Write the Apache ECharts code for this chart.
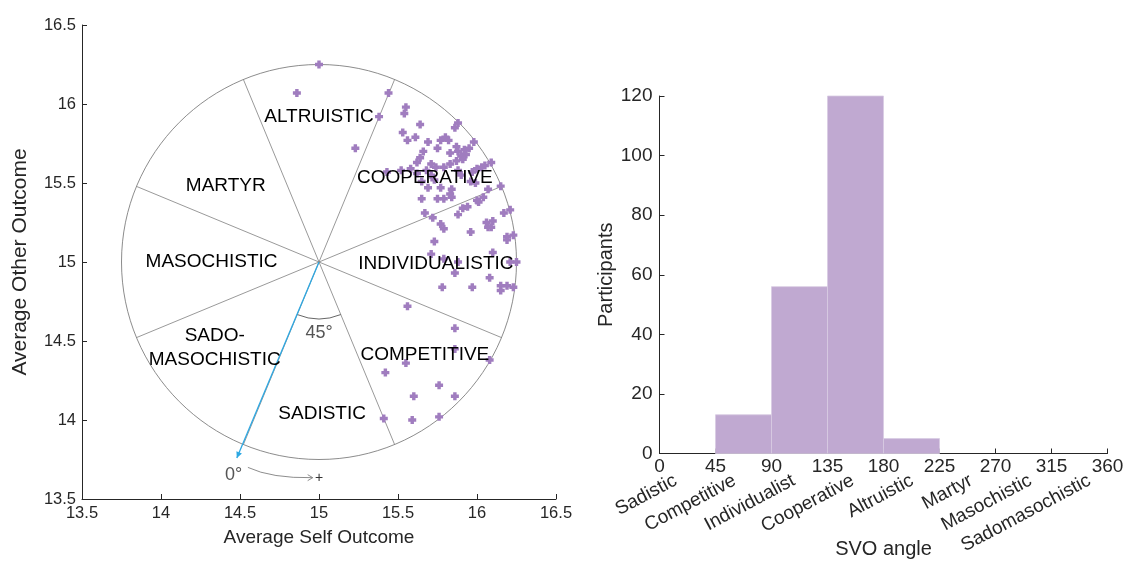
<!DOCTYPE html>
<html>
<head>
<meta charset="utf-8">
<script src="https://cdn.jsdelivr.net/npm/echarts@6/dist/echarts.min.js"></script>
<style>
html,body{margin:0;padding:0;background:#fff;}
#chart{width:1134px;height:561px;}
</style>
</head>
<body>
<div id="chart"></div>
<script>
// ---------- Left panel data (Average Self / Other Outcome) ----------
var selfOutcome = [
15.00,14.86,15.44,15.38,15.55,15.54,15.23,15.64,15.53,15.56,
15.61,15.69,15.77,15.80,15.82,15.88,15.86,15.98,15.95,15.75,
15.66,15.64,15.62,15.87,15.92,15.88,15.93,15.90,15.91,15.83,
16.09,16.05,15.71,15.74,15.79,15.83,15.87,15.52,15.58,15.43,
15.62,15.68,15.71,15.88,15.90,15.97,16.00,16.03,15.65,15.73,
15.96,15.99,16.15,15.69,15.77,15.84,15.83,16.07,16.04,15.65,
15.75,15.79,15.84,16.00,16.01,15.91,15.94,15.88,15.67,15.72,
16.17,16.21,16.06,16.10,16.07,16.09,15.77,15.79,15.96,16.19,
16.23,16.19,15.73,16.10,15.71,15.79,15.88,16.21,16.25,15.86,
16.08,15.78,15.97,16.15,16.19,16.23,16.15,15.56,15.86,15.86,
15.55,16.08,15.42,15.76,15.60,15.86,15.41,15.59,15.76];
var otherOutcome = [
16.25,16.07,16.07,15.92,15.98,15.94,15.72,15.87,15.82,15.77,
15.79,15.76,15.77,15.79,15.77,15.88,15.85,15.76,15.72,15.72,
15.70,15.66,15.63,15.73,15.71,15.70,15.68,15.67,15.65,15.69,
15.63,15.61,15.62,15.60,15.60,15.62,15.64,15.58,15.59,15.57,
15.56,15.58,15.55,15.58,15.55,15.57,15.59,15.60,15.51,15.52,
15.51,15.50,15.48,15.47,15.47,15.46,15.43,15.46,15.41,15.40,
15.40,15.40,15.41,15.39,15.38,15.34,15.35,15.30,15.31,15.28,
15.31,15.33,15.25,15.26,15.22,15.22,15.24,15.21,15.19,15.16,
15.17,15.14,15.13,15.06,15.05,15.02,15.00,15.00,15.00,14.93,
14.90,14.84,14.84,14.85,14.85,14.84,14.82,14.72,14.58,14.45,
14.36,14.38,14.30,14.22,14.15,14.15,14.01,14.00,14.02];

var circleCenter = [15, 15];
var circleRadius = 1.25;
var boundaryAngles = [22.5, 67.5, 112.5, 157.5, 202.5, 247.5, 292.5, 337.5];
var zeroLine = [[15, 15], [14.48, 13.76]];
var sectorNames = ['ALTRUISTIC','COOPERATIVE','INDIVIDUALISTIC','COMPETITIVE','SADISTIC','SADO-\nMASOCHISTIC','MASOCHISTIC','MARTYR'];
var sectorNameX = [15.00, 15.67, 15.74, 15.67, 15.02, 14.34, 14.32, 14.41];
var sectorNameY = [15.92, 15.53, 14.99, 14.41, 14.04, 14.46, 15.00, 15.48];

// ---------- Right panel data (histogram) ----------
var binEdges = [0, 45, 90, 135, 180, 225, 270, 315, 360];
var binCounts = [0, 13, 56, 120, 5, 0, 0, 0];
var svoTypes = ['Sadistic','Competitive','Individualist','Cooperative','Altruistic','Martyr','Masochistic','Sadomasochistic'];

var FONT = "'Liberation Sans', Helvetica, Arial, sans-serif";
var AX = '#262626';
var PURPLE = '#a07dbf';
var BAR = '#c0a9d1';

var scatterData = selfOutcome.map(function (x, i) { return [x, otherOutcome[i]]; });
var histData = binCounts.map(function (c, i) { return [binEdges[i], binEdges[i + 1], c]; });
var labelData = sectorNames.map(function (n, i) { return [sectorNameX[i], sectorNameY[i], n]; });

function axisCommon(extra) {
  var o = {
    axisLine: { show: true, onZero: false, lineStyle: { color: AX, width: 1 } },
    axisTick: { show: true, inside: true, length: 5, lineStyle: { color: AX } },
    splitLine: { show: false },
    nameTextStyle: { color: AX, fontFamily: FONT, fontSize: 19 }
  };
  for (var k in extra) o[k] = extra[k];
  return o;
}

var chart = echarts.init(document.getElementById('chart'), null, { renderer: 'canvas' });

var option = {
  backgroundColor: '#fff',
  animation: false,
  textStyle: { fontFamily: FONT },
  grid: [
    { left: 82, top: 25, width: 474, height: 474, containLabel: false, outerBoundsMode: 'none' },
    { left: 659.5, top: 96, width: 448, height: 357.5, containLabel: false, outerBoundsMode: 'none' },
    { left: 646, top: 96, width: 473, height: 357.5, containLabel: false, outerBoundsMode: 'none' }
  ],
  xAxis: [
    axisCommon({ type: 'value', gridIndex: 0, min: 13.5, max: 16.5, interval: 0.5,
      name: 'Average Self Outcome', nameLocation: 'middle', nameGap: 29,
      axisLabel: { color: AX, fontSize: 16.5, fontFamily: FONT, margin: 6 } }),
    axisCommon({ type: 'value', gridIndex: 1, min: 0, max: 360, interval: 45,
      name: 'SVO angle', nameLocation: 'middle', nameGap: 86,
      nameTextStyle: { color: AX, fontFamily: FONT, fontSize: 20 },
      axisLabel: { color: AX, fontSize: 19, fontFamily: FONT, margin: 4 } }),
    { type: 'category', gridIndex: 2, data: svoTypes, position: 'bottom', offset: 22,
      boundaryGap: true,
      axisLine: { show: false }, axisTick: { show: false }, splitLine: { show: false },
      axisLabel: { interval: 0, rotate: 28, color: AX, fontSize: 19, fontFamily: FONT, margin: 4 } }
  ],
  yAxis: [
    axisCommon({ type: 'value', gridIndex: 0, min: 13.5, max: 16.5, interval: 0.5,
      name: 'Average Other Outcome', nameLocation: 'middle', nameGap: 51,
      nameTextStyle: { color: AX, fontFamily: FONT, fontSize: 21 },
      axisLabel: { color: AX, fontSize: 16.5, fontFamily: FONT, margin: 6 } }),
    axisCommon({ type: 'value', gridIndex: 1, min: 0, max: 120, interval: 20,
      name: 'Participants', nameLocation: 'middle', nameGap: 42,
      nameTextStyle: { color: AX, fontFamily: FONT, fontSize: 20 },
      axisLabel: { color: AX, fontSize: 19, fontFamily: FONT, margin: 7 } }),
    { type: 'value', gridIndex: 2, show: false, min: 0, max: 1 }
  ],
  series: [
    {
      type: 'custom', xAxisIndex: 0, yAxisIndex: 0, z: 1, clip: false,
      data: [[circleCenter[0], circleCenter[1]]],
      renderItem: function (params, api) {
        var c = api.coord(circleCenter);
        var rx = api.coord([circleCenter[0] + circleRadius, circleCenter[1]])[0] - c[0];
        var ry = c[1] - api.coord([circleCenter[0], circleCenter[1] + circleRadius])[1];
        var children = [];
        children.push({ type: 'ellipse', shape: { cx: c[0], cy: c[1], rx: rx, ry: ry },
          style: { fill: null, stroke: '#7f7f7f', lineWidth: 0.9 } });
        boundaryAngles.forEach(function (a) {
          var r = a * Math.PI / 180;
          var p = api.coord([circleCenter[0] + circleRadius * Math.cos(r), circleCenter[1] + circleRadius * Math.sin(r)]);
          children.push({ type: 'line', shape: { x1: c[0], y1: c[1], x2: p[0], y2: p[1] },
            style: { stroke: '#7f7f7f', lineWidth: 0.8 } });
        });
        var ar = 0.36 * rx / circleRadius;
        children.push({ type: 'arc', shape: { cx: c[0], cy: c[1], r: ar,
            startAngle: 67.5 * Math.PI / 180, endAngle: 112.5 * Math.PI / 180, clockwise: true },
          style: { fill: null, stroke: '#555', lineWidth: 0.9 } });
        var lp = api.coord([15.0, 14.55]);
        children.push({ type: 'text', style: { text: '45°', x: lp[0], y: lp[1], fill: '#555',
          font: '18px ' + FONT, textAlign: 'center', textVerticalAlign: 'middle' } });
        var b0 = api.coord(zeroLine[0]), b1 = api.coord(zeroLine[1]);
        children.push({ type: 'line', shape: { x1: b0[0], y1: b0[1], x2: b1[0], y2: b1[1] },
          style: { stroke: '#2ea8e2', lineWidth: 1.3 } });
        var ang = Math.atan2(b1[1] - b0[1], b1[0] - b0[0]);
        var hl = 6, hw = 3;
        var bx = b1[0] - hl * Math.cos(ang), by = b1[1] - hl * Math.sin(ang);
        children.push({ type: 'polygon', shape: { points: [
            [b1[0], b1[1]],
            [bx + hw * Math.sin(ang), by - hw * Math.cos(ang)],
            [bx - hw * Math.sin(ang), by + hw * Math.cos(ang)] ] },
          style: { fill: '#2ea8e2' } });
        var t0 = api.coord([14.46, 13.65]);
        children.push({ type: 'text', style: { text: '0°', x: t0[0], y: t0[1], fill: '#555',
          font: '18px ' + FONT, textAlign: 'center', textVerticalAlign: 'middle' } });
        var s = api.coord([14.55, 13.70]), cp = api.coord([14.70, 13.63]), e = api.coord([14.96, 13.635]);
        children.push({ type: 'bezierCurve', shape: { x1: s[0], y1: s[1], cpx1: cp[0], cpy1: cp[1], x2: e[0], y2: e[1] },
          style: { fill: null, stroke: '#808080', lineWidth: 0.9 } });
        children.push({ type: 'polyline', shape: { points: [[e[0] - 5, e[1] - 3], [e[0], e[1]], [e[0] - 5, e[1] + 3]] },
          style: { fill: null, stroke: '#808080', lineWidth: 0.9 } });
        var pl = api.coord([15.0, 13.635]);
        children.push({ type: 'text', style: { text: '+', x: pl[0], y: pl[1], fill: '#333',
          font: '14px ' + FONT, textAlign: 'center', textVerticalAlign: 'middle' } });
        return { type: 'group', children: children };
      }
    },
    {
      type: 'scatter', xAxisIndex: 0, yAxisIndex: 0, z: 2,
      symbol: 'path://M2,0H5V2H7V5H5V7H2V5H0V2H2Z', symbolSize: 8,
      itemStyle: { color: PURPLE, opacity: 1 },
      data: scatterData
    },
    {
      type: 'custom', xAxisIndex: 0, yAxisIndex: 0, z: 3,
      data: labelData,
      renderItem: function (params, api) {
        var p = api.coord([api.value(0), api.value(1)]);
        return { type: 'text', style: { text: labelData[params.dataIndex][2], x: p[0], y: p[1],
          fill: '#000', font: '19px ' + FONT, textAlign: 'center', textVerticalAlign: 'middle', lineHeight: 24 } };
      }
    },
    {
      type: 'custom', xAxisIndex: 1, yAxisIndex: 1, z: 2,
      data: histData,
      encode: { x: [0, 1], y: 2 },
      renderItem: function (params, api) {
        var c = api.value(2);
        if (!c) return null;
        var p0 = api.coord([api.value(0), c]);
        var p1 = api.coord([api.value(1), 0]);
        return { type: 'rect', shape: { x: p0[0], y: p0[1], width: p1[0] - p0[0], height: p1[1] - p0[1] },
          style: { fill: BAR, stroke: '#d8cbe2', lineWidth: 0.8 } };
      }
    }
  ]
};
chart.setOption(option);
</script>
</body>
</html>
